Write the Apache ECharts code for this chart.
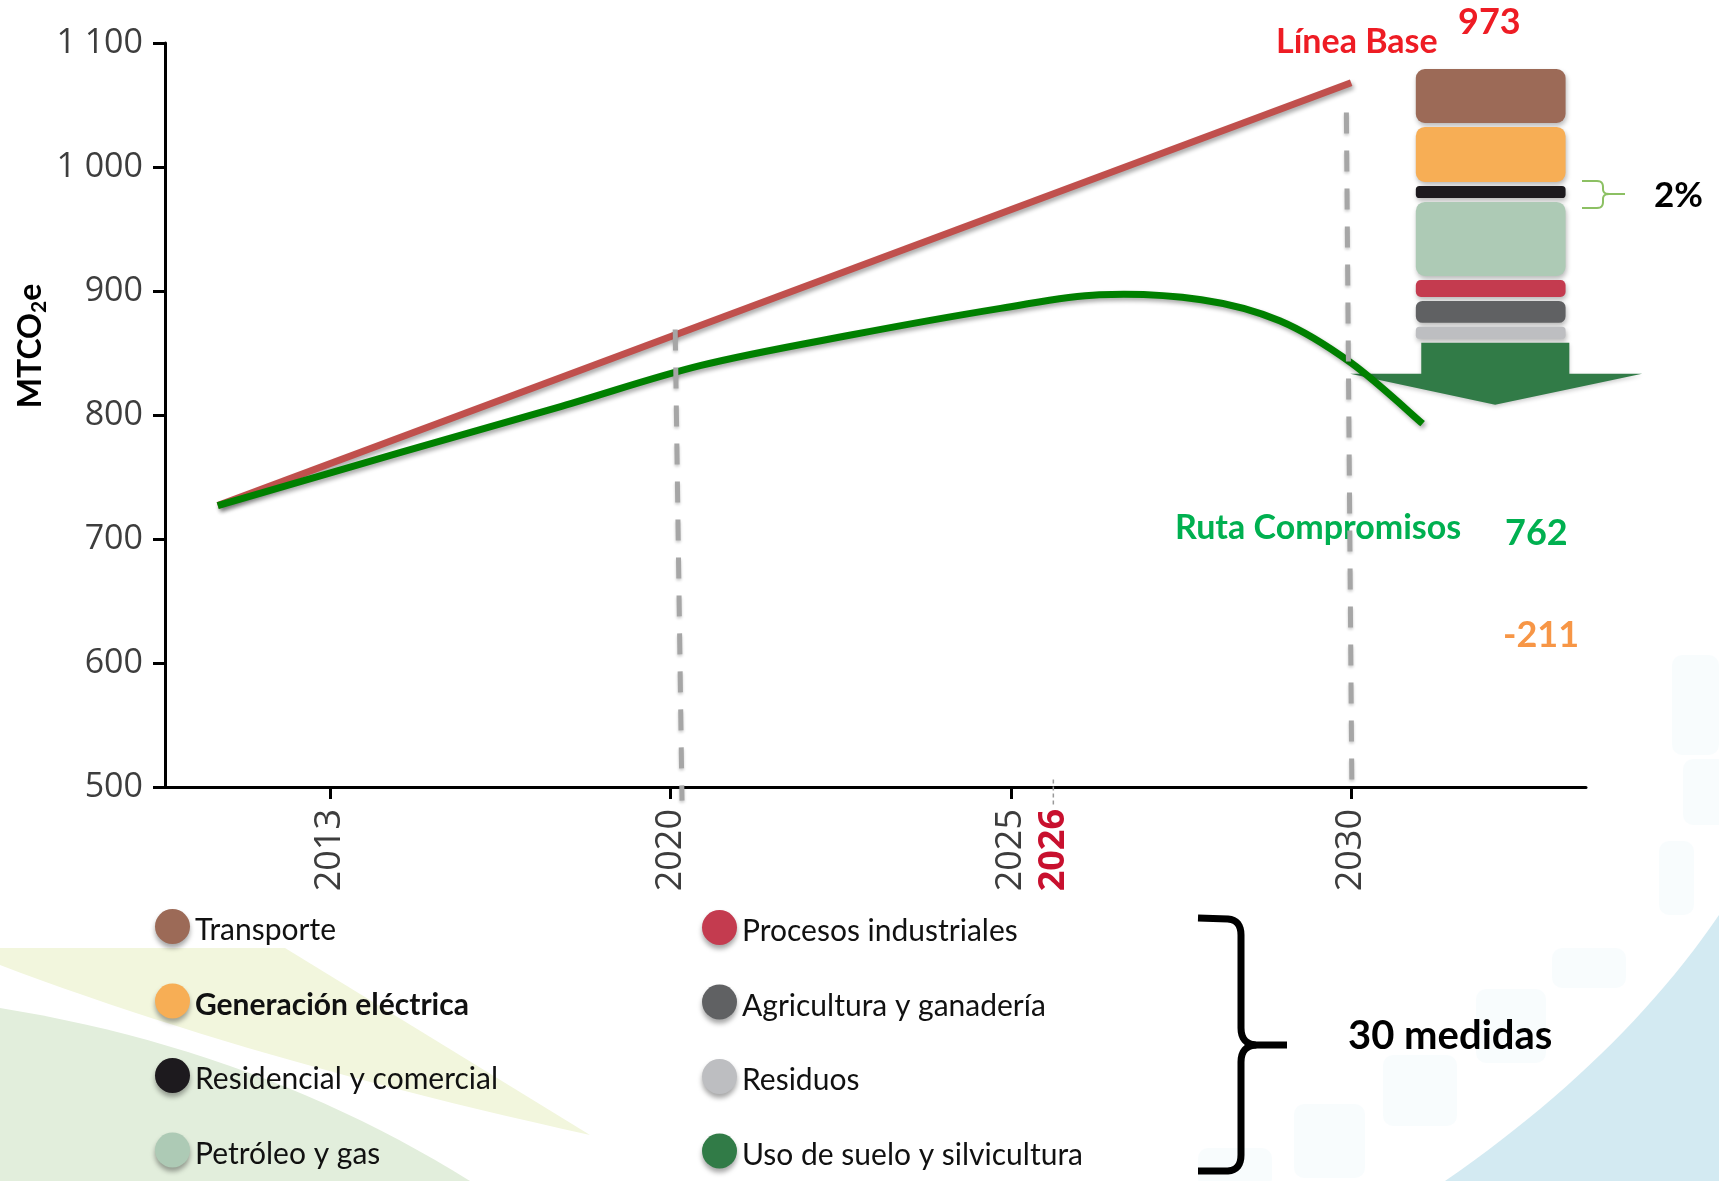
<!DOCTYPE html>
<html>
<head>
<meta charset="utf-8">
<script src="https://cdn.jsdelivr.net/npm/echarts@6/dist/echarts.min.js"></script>
<style>
  html, body { margin: 0; padding: 0; background: #ffffff; }
  #chart { width: 1719px; height: 1181px; }
</style>
</head>
<body>
<div id="chart"></div>
<script>
// Timeline positions: each period between labelled years takes one unit (2013, 2020, 2025, 2030).
const tickPositions = [0, 1, 2, 3];
const tickLabels = ['2013', '2020', '2025', '2030'];
const markedYearPosition = 2.125;
const markedYearLabel = '2026';

// Emissions, MtCO2e
const yTicks = [500, 600, 700, 800, 900, 1000, 1100];
const baselinePath = [[-0.33, 727], [3.0, 1068]];
const commitmentPath = [
  [-0.33, 727], [0.21, 770], [0.68, 807], [1.09, 840], [1.53, 864.5],
  [1.97, 886], [2.26, 897], [2.56, 893], [2.79, 876], [3.0, 842], [3.21, 793]
];

// Reduction by sector (stack drawn top to bottom)
const sectorNames = [
  'Transporte', 'Generación eléctrica', 'Residencial y comercial', 'Petróleo y gas',
  'Procesos industriales', 'Agricultura y ganadería', 'Residuos', 'Uso de suelo y silvicultura'
];
const sectorCuts = [43.5, 44.4, 9.7, 59.7, 13.7, 17.7, 9.7, 50];
const sectorColors = ['#9C6A57', '#F7AE55', '#1D1A1E', '#ADCAB5', '#C43B4F', '#606163', '#BDBEC1', '#317B47'];

const annotations = {
  baseline: 'Línea Base', baselineValue: '973',
  route: 'Ruta Compromisos', routeValue: '762',
  gap: '-211', share: '2%', measures: '30 medidas'
};

const chart = echarts.init(document.getElementById('chart'), null, { renderer: 'canvas' });

// sampled quadratic curve helper for decorative shapes
function quad(p0, c, p1, n) {
  const pts = [];
  for (let i = 0; i <= n; i++) {
    const t = i / n, u = 1 - t;
    pts.push([u * u * p0[0] + 2 * u * t * c[0] + t * t * p1[0], u * u * p0[1] + 2 * u * t * c[1] + t * t * p1[1]]);
  }
  return pts;
}
function chain(segments) {
  let out = [];
  segments.forEach(function (s, i) { out = out.concat(i === 0 ? s : s.slice(1)); });
  return out;
}

// Catmull-Rom spline through pixel points, as an SVG path string
function splinePath(pts) {
  let d = 'M' + pts[0][0] + ' ' + pts[0][1];
  for (let i = 0; i < pts.length - 1; i++) {
    const p0 = pts[Math.max(0, i - 1)], p1 = pts[i], p2 = pts[i + 1], p3 = pts[Math.min(pts.length - 1, i + 2)];
    const c1x = p1[0] + (p2[0] - p0[0]) / 6, c1y = p1[1] + (p2[1] - p0[1]) / 6;
    const c2x = p2[0] - (p3[0] - p1[0]) / 6, c2y = p2[1] - (p3[1] - p1[1]) / 6;
    d += ' C' + c1x + ' ' + c1y + ' ' + c2x + ' ' + c2y + ' ' + p2[0] + ' ' + p2[1];
  }
  return d;
}

// stack layout
const stackTop = 1079;
const stackGap = 3.2;
const stackLeft = 3.19, stackRight = 3.63;
const stackOffsets = [];
(function () {
  let acc = 0;
  sectorCuts.forEach(function (c) { stackOffsets.push(acc); acc += c + stackGap; });
})();

const blockShadow = { shadowBlur: 5, shadowOffsetX: 1, shadowOffsetY: 3, shadowColor: 'rgba(0,0,0,0.28)' };

function blockRenderer(i) {
  return function (params, api) {
    const top = stackTop - stackOffsets[i];
    const cut = api.value(0);
    const color = sectorColors[i];
    if (i === sectorCuts.length - 1) {
      // arrow: body for the first half, head for the second
      const bodyBottom = top - cut / 2;
      const tip = top - cut;
      const a = api.coord([3.206, top]);
      const b = api.coord([3.641, bodyBottom]);
      const hl = api.coord([2.997, bodyBottom]);
      const hr = api.coord([3.855, bodyBottom]);
      const ht = api.coord([3.423, tip]);
      return {
        type: 'polygon',
        shape: { points: [[a[0], a[1]], [b[0], a[1]], [b[0], b[1]], [hr[0], hr[1]], [ht[0], ht[1]], [hl[0], hl[1]], [a[0], b[1]]] },
        style: { fill: color, shadowBlur: 4, shadowOffsetY: 2, shadowColor: 'rgba(0,0,0,0.2)' }
      };
    }
    const p0 = api.coord([stackLeft, top]);
    const p1 = api.coord([stackRight, top - cut]);
    const h = p1[1] - p0[1];
    return {
      type: 'rect',
      shape: { x: p0[0], y: p0[1], width: p1[0] - p0[0], height: h, r: Math.min(9, h * 0.3) },
      style: Object.assign({ fill: color }, blockShadow)
    };
  };
}

const sectorSeries = sectorNames.map(function (name, i) {
  return {
    type: 'custom',
    name: name,
    z: 1,
    silent: true,
    itemStyle: { color: sectorColors[i] },
    renderItem: blockRenderer(i),
    data: [[sectorCuts[i]]]
  };
});

// dashed guides: [x top, y top, x bottom, y bottom, style index]
const guideRows = [
  [1.014, 869, 1.034, 489, 0],
  [2.986, 1044, 3.002, 503, 0],
  [markedYearPosition, 506, markedYearPosition, 485, 1]
];
const guideStyles = [
  { stroke: '#A6A6A6', lineWidth: 5, lineDash: [21, 17], shadowBlur: 3, shadowOffsetY: 2, shadowColor: 'rgba(0,0,0,0.2)' },
  { stroke: '#9A9A9A', lineWidth: 1.5, lineDash: [4, 3] }
];

const lineShadow = { shadowBlur: 4, shadowOffsetX: 2, shadowOffsetY: 3, shadowColor: 'rgba(0,0,0,0.33)' };

const legendText = {
  fontFamily: 'Lato', fontSize: 30, color: '#111111', padding: [8, 0, 0, 0],
  rich: { b: { fontFamily: 'Lato', fontSize: 30, fontWeight: 'bold', color: '#111111' } }
};
function legendFormatter(name) {
  return name === 'Generación eléctrica' ? '{b|' + name + '}' : name;
}
const legendBase = {
  orient: 'vertical', icon: 'circle', itemWidth: 35, itemHeight: 37, itemGap: 38,
  selectedMode: false, formatter: legendFormatter, textStyle: legendText,
  itemStyle: { shadowBlur: 5, shadowOffsetY: 4, shadowColor: 'rgba(0,0,0,0.35)' }
};

const bgSquares = [
  [1683, 759, 48, 66], [1659, 841, 35, 74], [1552, 948, 74, 40], [1476, 989, 70, 74],
  [1383, 1055, 74, 71], [1294, 1104, 71, 74], [1198, 1148, 74, 40], [1672, 655, 47, 100]
];

// decorative outlines
const yellowBand = [[0, 948], [285, 948], [590, 1135]].concat(quad([590, 1135], [250, 1060], [0, 965], 24));
const greenArea = quad([0, 1008], [260, 1050], [470, 1181], 24).concat([[0, 1181]]);
const blueArea = quad([1719, 915], [1620, 1060], [1445, 1181], 24).concat([[1719, 1181]]);
const smallBrace = chain([
  [[1582, 181], [1597, 181]], quad([1597, 181], [1603, 181], [1603, 187], 6), [[1603, 187], [1603, 189]],
  quad([1603, 189], [1603, 194], [1609, 194], 6), [[1609, 194], [1625, 194]]
]);
const smallBrace2 = chain([
  [[1609, 194]], quad([1609, 194], [1603, 194], [1603, 199], 6), [[1603, 199], [1603, 202]],
  quad([1603, 202], [1603, 208], [1597, 208], 6), [[1597, 208], [1582, 208]]
]);
const bigBraceTop = chain([
  [[1198, 918], [1228, 919]], quad([1228, 919], [1241, 920], [1241, 935], 8), [[1241, 935], [1241, 1028]],
  quad([1241, 1028], [1241, 1044], [1256, 1045], 8), [[1256, 1045], [1287, 1045]]
]);
const bigBraceBottom = chain([
  [[1256, 1045]], quad([1256, 1045], [1241, 1046], [1241, 1062], 8), [[1241, 1062], [1241, 1155]],
  quad([1241, 1155], [1241, 1170], [1228, 1171], 8), [[1228, 1171], [1198, 1171]]
]);

const option = {
  animation: false,
  backgroundColor: '#ffffff',
  grid: { left: 165, right: 133, top: 43, bottom: 394, containLabel: false, outerBoundsMode: 'none' },
  xAxis: {
    type: 'value', min: -0.485, max: 3.69,
    axisLine: { show: true, onZero: false, lineStyle: { color: '#000', width: 3 } },
    axisTick: { show: true, customValues: tickPositions, length: 12, lineStyle: { color: '#000', width: 3 } },
    axisLabel: {
      customValues: tickPositions.concat([markedYearPosition]),
      rotate: 90, margin: 22,
      fontFamily: 'Open Sans', fontSize: 36, color: '#3d3d3d',
      formatter: function (v) {
        for (let i = 0; i < tickPositions.length; i++) {
          if (Math.abs(v - tickPositions[i]) < 1e-6) return tickLabels[i];
        }
        return '{m|' + markedYearLabel + '}';
      },
      rich: { m: { fontFamily: 'Open Sans', fontSize: 36, fontWeight: 'bold', color: '#C8102E' } }
    },
    splitLine: { show: false }
  },
  yAxis: {
    type: 'value', min: yTicks[0], max: yTicks[yTicks.length - 1], interval: 100,
    axisLine: { show: true, onZero: false, lineStyle: { color: '#000', width: 3 } },
    axisTick: { show: true, length: 12, lineStyle: { color: '#000', width: 3 } },
    axisLabel: {
      margin: 22, fontFamily: 'Open Sans', fontSize: 34, color: '#3d3d3d',
      formatter: function (v) {
        return v >= 1000 ? Math.floor(v / 1000) + ' ' + String(v % 1000).padStart(3, '0') : String(v);
      }
    },
    splitLine: { show: false }
  },
  legend: [
    Object.assign({}, legendBase, { left: 150, top: 904, data: sectorNames.slice(0, 4) }),
    Object.assign({}, legendBase, { left: 697, top: 905, data: sectorNames.slice(4) })
  ],
  series: [
    {
      type: 'line', name: 'Línea Base', z: 2, silent: true, symbol: 'none',
      lineStyle: Object.assign({ color: '#C0504D', width: 7, cap: 'butt' }, lineShadow),
      data: baselinePath
    },
    {
      // commitment route drawn as a spline through the read points
      type: 'custom', name: 'Ruta Compromisos', z: 3, silent: true, clip: false,
      renderItem: function (params, api) {
        if (params.dataIndex !== 0) return null;
        const pts = commitmentPath.map(function (p) { return api.coord(p); });
        return {
          type: 'path',
          shape: { pathData: splinePath(pts) },
          style: Object.assign({ fill: null, stroke: '#008000', lineWidth: 7, lineCap: 'butt', lineJoin: 'round' }, lineShadow)
        };
      },
      data: commitmentPath
    },
    {
      type: 'custom', name: 'guides', z: 4, silent: true, clip: false,
      renderItem: function (params, api) {
        const a = api.coord([api.value(0), api.value(1)]);
        const b = api.coord([api.value(2), api.value(3)]);
        return {
          type: 'line',
          shape: { x1: a[0], y1: a[1], x2: b[0], y2: b[1] },
          style: Object.assign({ fill: null }, guideStyles[api.value(4)])
        };
      },
      data: guideRows
    }
  ].concat(sectorSeries),
  graphic: [
    // soft background shapes
    { type: 'polygon', z: -10, silent: true, shape: { points: yellowBand }, style: { fill: '#F2F6DD' } },
    { type: 'polygon', z: -10, silent: true, shape: { points: greenArea }, style: { fill: '#E2EEDC' } },
    { type: 'polygon', z: -10, silent: true, shape: { points: blueArea }, style: { fill: '#D3EAF2' } }
  ].concat(bgSquares.map(function (s) {
    return { type: 'rect', z: -9, silent: true, shape: { x: s[0], y: s[1], width: s[2], height: s[3], r: 10 },
      style: { fill: 'rgba(214,236,244,0.18)' } };
  })).concat([
    // y axis title
    { type: 'text', silent: true, x: 31, y: 346, rotation: Math.PI / 2,
      style: { text: '{a|MTCO}{s|2}{a|e}', align: 'center', verticalAlign: 'middle', textAlign: 'center', textVerticalAlign: 'middle',
        rich: { a: { fontFamily: 'Lato', fontSize: 32, fontWeight: 'bold', fill: '#000', color: '#000' },
                s: { fontFamily: 'Lato', fontSize: 21, fontWeight: 'bold', fill: '#000', color: '#000', padding: [16, 0, 0, 0] } } } },
    // annotations
    { type: 'text', silent: true, x: 1276, y: 42,
      style: { text: annotations.baseline, fill: '#EE1C24', font: 'bold 34px Lato', textVerticalAlign: 'middle', verticalAlign: 'middle' } },
    { type: 'text', silent: true, x: 1458, y: 22,
      style: { text: annotations.baselineValue, fill: '#EE1C24', font: 'bold 36px Lato', textVerticalAlign: 'middle', verticalAlign: 'middle' } },
    { type: 'text', silent: true, x: 1654, y: 196,
      style: { text: annotations.share, fill: '#000', font: 'bold 35px Lato', textVerticalAlign: 'middle', verticalAlign: 'middle' } },
    { type: 'text', silent: true, x: 1175, y: 528,
      style: { text: annotations.route, fill: '#00B050', font: 'bold 34px Lato', textVerticalAlign: 'middle', verticalAlign: 'middle' } },
    { type: 'text', silent: true, x: 1505, y: 533,
      style: { text: annotations.routeValue, fill: '#00B050', font: 'bold 36px Lato', textVerticalAlign: 'middle', verticalAlign: 'middle' } },
    { type: 'text', silent: true, x: 1503, y: 635,
      style: { text: annotations.gap, fill: '#F79646', font: 'bold 36px Lato', textVerticalAlign: 'middle', verticalAlign: 'middle' } },
    { type: 'text', silent: true, x: 1348, y: 1036,
      style: { text: annotations.measures, fill: '#000', font: 'bold 40px Lato', textVerticalAlign: 'middle', verticalAlign: 'middle' } },
    // small brace beside the residential block
    { type: 'polyline', silent: true, shape: { points: smallBrace }, style: { stroke: '#8CC063', lineWidth: 2, fill: null } },
    { type: 'polyline', silent: true, shape: { points: smallBrace2 }, style: { stroke: '#8CC063', lineWidth: 2, fill: null } },
    // large brace grouping the measures
    { type: 'polyline', silent: true, shape: { points: bigBraceTop }, style: { stroke: '#000', lineWidth: 7, fill: null } },
    { type: 'polyline', silent: true, shape: { points: bigBraceBottom }, style: { stroke: '#000', lineWidth: 7, fill: null } }
  ])
};

chart.setOption(option);
</script>
</body>
</html>
